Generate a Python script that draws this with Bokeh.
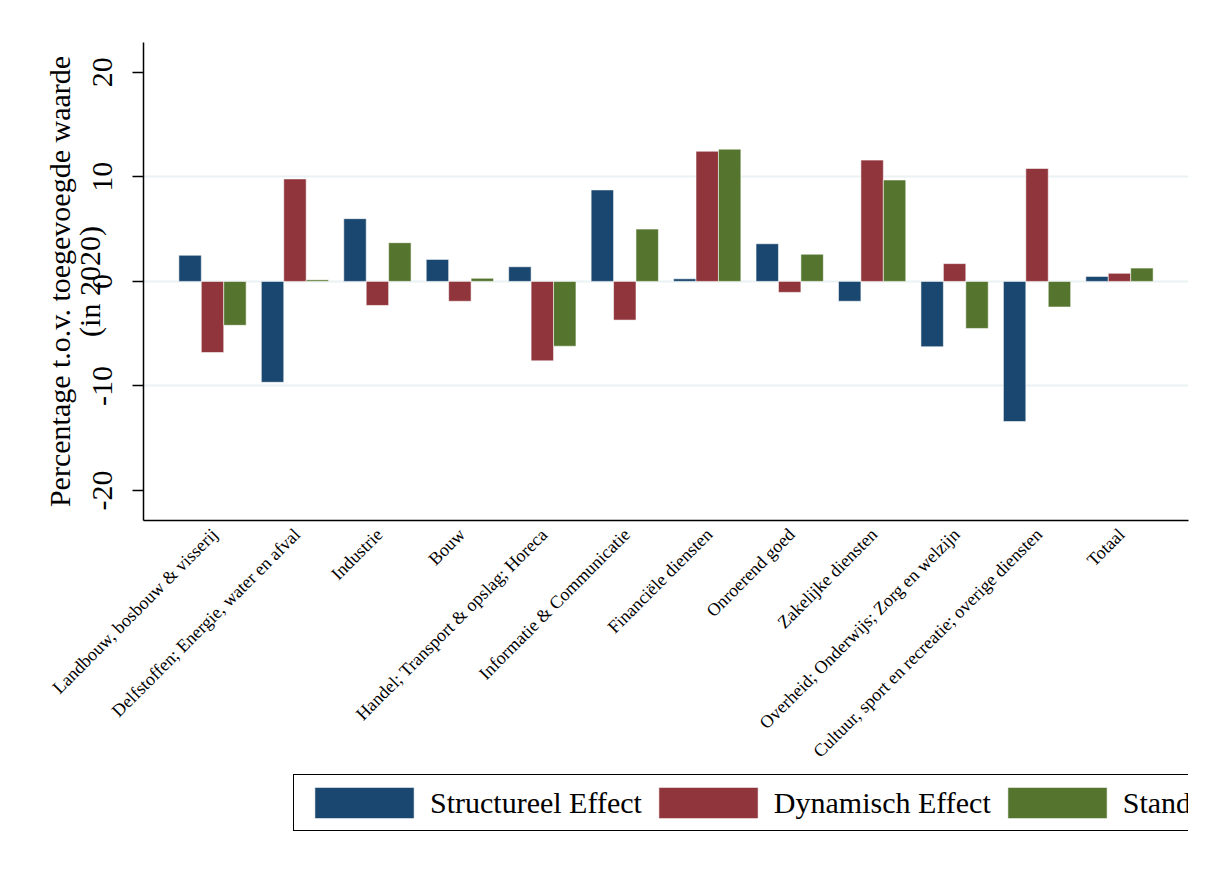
from bokeh.plotting import figure
from bokeh.layouts import column
from bokeh.models import ColumnDataSource, Range1d, FixedTicker, Legend, LegendItem
from bokeh.transform import dodge
from bokeh.embed import file_html
from bokeh.resources import INLINE

categories = [
    "Landbouw, bosbouw & visserij",
    "Delfstoffen; Energie, water en afval",
    "Industrie",
    "Bouw",
    "Handel; Transport & opslag; Horeca",
    "Informatie & Communicatie",
    "Financiële diensten",
    "Onroerend goed",
    "Zakelijke diensten",
    "Overheid; Onderwijs; Zorg en welzijn",
    "Cultuur, sport en recreatie; overige diensten",
    "Totaal",
]
structureel = [2.5, -9.65, 6.0, 2.1, 1.4, 8.75, 0.25, 3.6, -1.9, -6.25, -13.4, 0.48]
dynamisch = [-6.8, 9.8, -2.3, -1.9, -7.6, -3.7, 12.45, -1.05, 11.6, 1.7, 10.8, 0.77]
standaard = [-4.2, 0.15, 3.7, 0.3, -6.2, 5.0, 12.65, 2.6, 9.7, -4.5, -2.45, 1.27]
y_ticks = [-20, -10, 0, 10, 20]
grid_ticks = [-10, 0, 10]

series_names = ["Structureel Effect", "Dynamisch Effect", "Standaard Effect"]
series_cols = ["structureel", "dynamisch", "standaard"]
colors = ["#1a476f", "#90353b", "#55752f"]

FONT = "Liberation Serif"
BW = 0.272
LABEL_SHIFT = 0.025

source = ColumnDataSource(dict(
    idx=list(range(len(categories))),
    structureel=structureel,
    dynamisch=dynamisch,
    standaard=standaard,
))

p = figure(frame_width=1045, frame_height=478, output_backend="svg", toolbar_location=None,
           x_range=Range1d(-0.837, 11.837), y_range=Range1d(-22.87, 22.85),
           min_border_left=143, min_border_right=18, min_border_top=42,
           min_border_bottom=0)
p.outline_line_color = None
p.background_fill_color = "white"
p.border_fill_color = "white"

for col, off, c in zip(series_cols, [-BW, 0, BW], colors):
    p.vbar(x=dodge("idx", off), top=col, bottom=0, width=BW, source=source,
           fill_color=c, line_color="white", line_alpha=0.55, line_width=1)

# grid
p.xgrid.visible = False
p.ygrid.ticker = FixedTicker(ticks=grid_ticks)
p.ygrid.grid_line_color = "#eaf2f3"
p.ygrid.grid_line_width = 2

# y axis
p.yaxis.ticker = FixedTicker(ticks=y_ticks)
p.yaxis.major_label_overrides = {t: str(t) for t in y_ticks}
p.yaxis.major_label_orientation = "vertical"
p.yaxis.major_label_text_font = FONT
p.yaxis.major_label_text_font_size = "30px"
p.yaxis.major_label_text_color = "black"
p.yaxis.major_label_standoff = 20
p.yaxis.major_tick_out = 11
p.yaxis.major_tick_in = 0
p.yaxis.minor_tick_line_color = None
p.yaxis.axis_line_width = 1.5
p.yaxis.major_tick_line_width = 1.5
p.yaxis.axis_line_color = "black"
p.yaxis.major_tick_line_color = "black"
p.yaxis.axis_label = "Percentage t.o.v. toegevoegde waarde\n(in 2020)"
p.yaxis.axis_label_text_font = FONT
p.yaxis.axis_label_text_font_size = "30px"
p.yaxis.axis_label_text_font_style = "normal"
p.yaxis.axis_label_text_color = "black"
p.yaxis.axis_label_text_line_height = 0.9
p.yaxis.axis_label_standoff = -15

# x axis
x_ticks = [i + LABEL_SHIFT for i in range(len(categories))]
p.xaxis.ticker = FixedTicker(ticks=x_ticks)
p.xaxis.major_label_overrides = {t: c for t, c in zip(x_ticks, categories)}
p.xaxis.major_label_orientation = 0.785398
p.xaxis.major_label_text_font = FONT
p.xaxis.major_label_text_font_size = "18px"
p.xaxis.major_label_text_color = "black"
p.xaxis.major_label_standoff = 11
p.xaxis.major_tick_out = 0
p.xaxis.major_tick_in = 0
p.xaxis.minor_tick_line_color = None
p.xaxis.axis_line_width = 1.5
p.xaxis.axis_line_color = "black"

# legend strip: a second figure under the chart, holding only the legend
pl = figure(width=1206, height=70, output_backend="svg", toolbar_location=None,
            x_axis_location=None, y_axis_location=None,
            x_range=Range1d(100, 101), y_range=Range1d(100, 101),
            min_border=0)
pl.outline_line_color = None
pl.background_fill_color = "white"
pl.border_fill_color = "white"
pl.grid.visible = False

leg_renderers = []
for col, c in zip(series_cols, colors):
    r = pl.vbar(x="idx", top=col, bottom=0, width=BW, source=source,
                fill_color=c, line_color="white", line_alpha=0.55, line_width=1)
    leg_renderers.append(r)

legend = Legend(items=[LegendItem(label=n, renderers=[r]) for n, r in zip(series_names, leg_renderers)],
                orientation="horizontal", location=(150, 10))
legend.label_text_font = FONT
legend.label_text_font_size = "30px"
legend.label_text_color = "black"
legend.glyph_width = 124
legend.glyph_height = 39
legend.label_standoff = 4
legend.spacing = 4
legend.padding = 8
legend.margin = 0
legend.border_line_color = "black"
legend.border_line_alpha = 1.0
legend.border_line_width = 1.5
legend.background_fill_color = "white"
pl.add_layout(legend, "center")

layout = column(p, pl, spacing=0)

open("out.html", "w").write(file_html(layout, INLINE))
